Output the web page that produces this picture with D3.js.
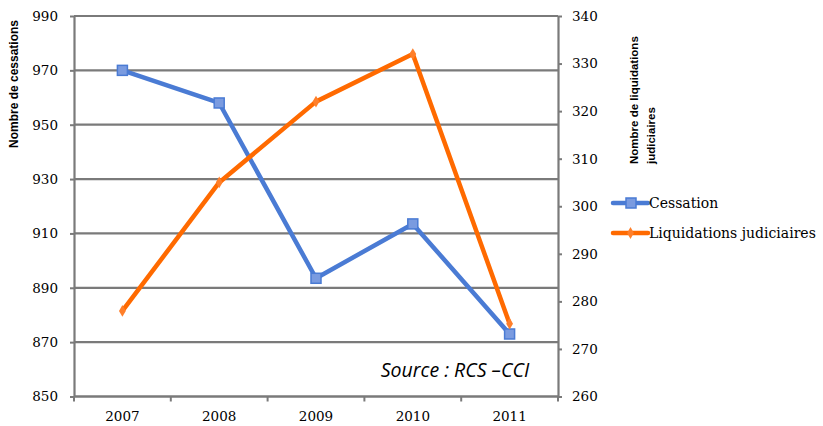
<!DOCTYPE html>
<html>
<head>
<meta charset="utf-8">
<script src="https://cdn.jsdelivr.net/npm/d3@7"></script>
<style>
  body { margin: 0; background: #fff; }
  svg { display: block; }
</style>
</head>
<body>
<svg id="chart"></svg>
<script>
let years = ['2007', '2008', '2009', '2010', '2011'];
let cessations = [970, 958, 893.5, 913.5, 873];
let liquidations = [278, 305, 322, 332, 275.3];
let leftTicks = [850, 870, 890, 910, 930, 950, 970, 990];
let rightTicks = [260, 270, 280, 290, 300, 310, 320, 330, 340];

function getConfig() {
    let width = 823;
    let height = 426;
    let margin = { top: 16, bottom: 30, left: 74, right: 265 };
    let bodyHeight = 396.5 - margin.top;
    let bodyWidth = 558 - margin.left;
    let container = d3.select('#chart')
        .attr('width', width)
        .attr('height', height);
    return { width, height, margin, bodyHeight, bodyWidth, container };
}

function getScales(config) {
    let { bodyWidth, bodyHeight } = config;
    let xScale = d3.scaleBand().domain(years).range([0, bodyWidth]);
    let yLeft = d3.scaleLinear().domain([850, 990]).range([bodyHeight, 0]);
    let yRight = d3.scaleLinear().domain([260, 340]).range([bodyHeight, 0]);
    return { xScale, yLeft, yRight };
}

function drawGrid(scales, config) {
    let { container, margin, bodyWidth } = config;
    let { yLeft } = scales;
    container.append('g')
        .attr('transform', `translate(${margin.left},${margin.top})`)
        .selectAll('line').data(leftTicks)
        .enter().append('line')
        .attr('x1', 0).attr('x2', bodyWidth)
        .attr('y1', d => yLeft(d)).attr('y2', d => yLeft(d))
        .attr('stroke', '#7a7a7a').attr('stroke-width', 2.2);
}

function styleAxis(g) {
    g.attr('font-family', 'DejaVu Serif').attr('font-size', 13.5);
    g.select('.domain').attr('stroke', '#7a7a7a').attr('stroke-width', 2.2);
    g.selectAll('.tick line').attr('stroke', '#7a7a7a').attr('stroke-width', 2);
    g.selectAll('.tick text').attr('fill', '#000');
}

function drawAxes(scales, config) {
    let { container, margin, bodyWidth, bodyHeight } = config;
    let { xScale, yLeft, yRight } = scales;

    let axisLeft = d3.axisLeft(yLeft).tickValues(leftTicks).tickSize(4).tickPadding(12).tickSizeOuter(0);
    container.append('g')
        .attr('transform', `translate(${margin.left},${margin.top})`)
        .call(axisLeft).call(styleAxis);

    let axisRight = d3.axisRight(yRight).tickValues(rightTicks).tickSize(4).tickPadding(10).tickSizeOuter(0);
    container.append('g')
        .attr('transform', `translate(${margin.left + bodyWidth},${margin.top})`)
        .call(axisRight).call(styleAxis);

    // x axis: ticks sit between categories
    let axisX = d3.axisBottom(xScale).tickSize(0).tickPadding(15);
    let gx = container.append('g')
        .attr('transform', `translate(${margin.left},${margin.top + bodyHeight})`)
        .call(axisX).call(styleAxis);
    gx.select('.domain').remove();
    gx.append('line')
        .attr('x1', 0).attr('x2', bodyWidth)
        .attr('stroke', '#7a7a7a').attr('stroke-width', 2.2);
    gx.selectAll('.bound').data(d3.range(years.length + 1))
        .enter().append('line')
        .attr('x1', i => i * xScale.step()).attr('x2', i => i * xScale.step())
        .attr('y1', 0).attr('y2', 5)
        .attr('stroke', '#7a7a7a').attr('stroke-width', 2);

    container.append('text')
        .attr('transform', `translate(18,84) rotate(-90)`)
        .attr('text-anchor', 'middle')
        .attr('font-family', 'Liberation Sans')
        .attr('font-weight', 'bold')
        .attr('font-size', 12)
        .text('Nombre de cessations');

    let rt = container.append('text')
        .attr('transform', `translate(638,164) rotate(-90)`)
        .attr('font-family', 'Liberation Sans')
        .attr('font-weight', 'bold')
        .attr('font-size', 11.5);
    rt.append('tspan').attr('x', 0).attr('y', 0).text('Nombre de liquidations');
    rt.append('tspan').attr('x', 0).attr('y', 17).text('judiciaires');
}

function drawSeries(scales, config) {
    let { container, margin } = config;
    let { xScale, yLeft, yRight } = scales;
    let cx = d => xScale(d) + xScale.bandwidth() / 2;
    let body = container.append('g')
        .attr('transform', `translate(${margin.left},${margin.top})`);

    let lineBlue = d3.line().x((d, i) => cx(years[i])).y(d => yLeft(d));
    let lineOrange = d3.line().x((d, i) => cx(years[i])).y(d => yRight(d));

    body.append('path').datum(cessations)
        .attr('d', lineBlue).attr('fill', 'none')
        .attr('stroke', '#4a7bd4').attr('stroke-width', 4.5)
        .attr('stroke-linejoin', 'round');
    body.selectAll('.sq').data(cessations)
        .enter().append('rect')
        .attr('x', (d, i) => cx(years[i]) - 5)
        .attr('y', d => yLeft(d) - 5)
        .attr('width', 10).attr('height', 10)
        .attr('fill', '#7a9be0').attr('stroke', '#4a7bd4').attr('stroke-width', 1.5);

    body.append('path').datum(liquidations)
        .attr('d', lineOrange).attr('fill', 'none')
        .attr('stroke', '#ff6a00').attr('stroke-width', 4.5)
        .attr('stroke-linejoin', 'round');
    body.selectAll('.dm').data(liquidations)
        .enter().append('path')
        .attr('d', d3.symbol(d3.symbolDiamond, 40))
        .attr('transform', (d, i) => `translate(${cx(years[i])},${yRight(d)})`)
        .attr('fill', '#ff7f2a');
}

function drawLegend() {
    let container = d3.select('#chart');
    let items = [
        { label: 'Cessation', color: '#4a7bd4', y: 203 },
        { label: 'Liquidations judiciaires', color: '#ff6a00', y: 233 }
    ];
    items.forEach((it, i) => {
        container.append('line')
            .attr('x1', 613).attr('x2', 648)
            .attr('y1', it.y).attr('y2', it.y)
            .attr('stroke', it.color).attr('stroke-width', 4.5)
            .attr('stroke-linecap', 'round');
        if (i === 0) {
            container.append('rect')
                .attr('x', 626).attr('y', it.y - 5).attr('width', 10).attr('height', 10)
                .attr('fill', '#7a9be0').attr('stroke', '#4a7bd4').attr('stroke-width', 1.5);
        } else {
            container.append('path')
                .attr('d', d3.symbol(d3.symbolDiamond, 40))
                .attr('transform', `translate(630.5,${it.y})`)
                .attr('fill', '#ff7f2a');
        }
        container.append('text')
            .attr('x', 649).attr('y', it.y + 5)
            .attr('font-family', 'DejaVu Serif')
            .attr('font-size', 14)
            .text(it.label);
    });

    container.append('text')
        .attr('x', 455).attr('y', 377)
        .attr('text-anchor', 'middle')
        .attr('font-family', 'Open Sans')
        .attr('font-style', 'italic')
        .attr('font-size', 19.5)
        .text('Source : RCS \u2013CCI');
}

let config = getConfig();
let scales = getScales(config);
drawGrid(scales, config);
drawSeries(scales, config);
drawAxes(scales, config);
drawLegend();
</script>
</body>
</html>
